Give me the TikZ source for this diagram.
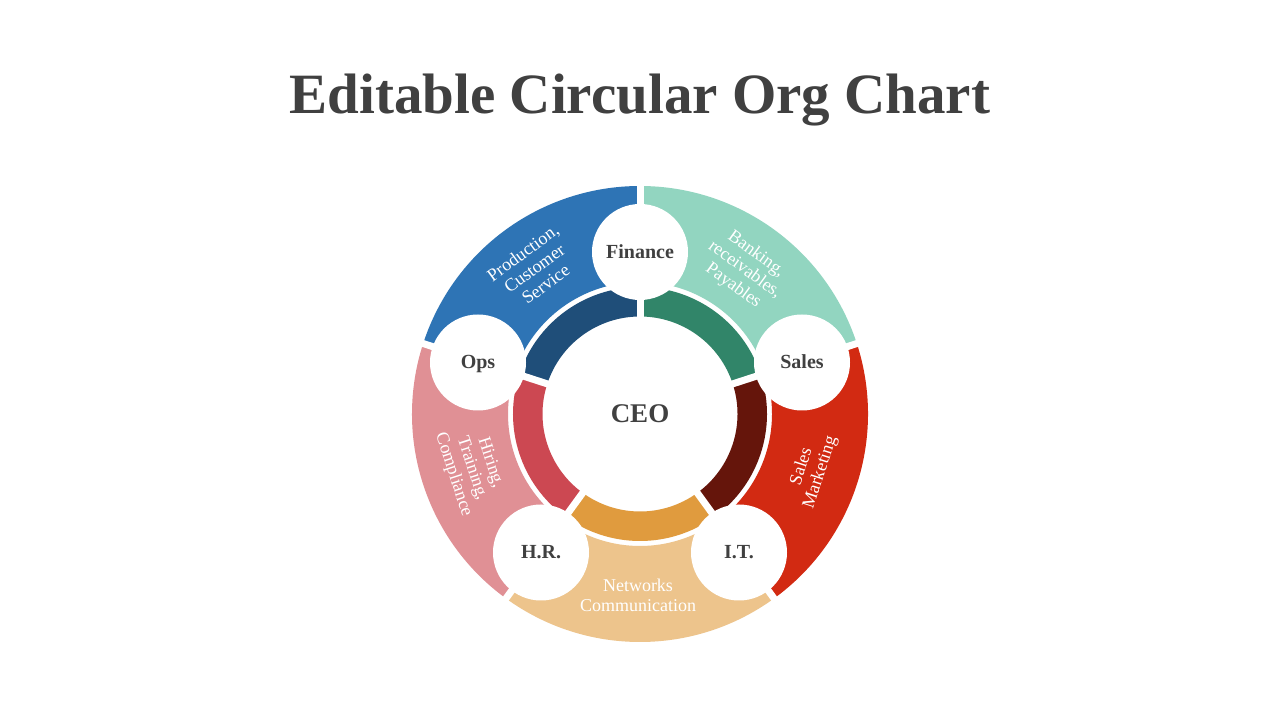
\documentclass[tikz,border=0pt]{standalone}
\usepackage{fontspec}
\setmainfont{Liberation Serif}
\definecolor{cBlue}{HTML}{2E74B5}
\definecolor{cTeal}{HTML}{92D5C0}
\definecolor{cRedO}{HTML}{D22A12}
\definecolor{cPeach}{HTML}{EDC48C}
\definecolor{cPink}{HTML}{E09095}
\definecolor{cDBlue}{HTML}{1F4E79}
\definecolor{cGreen}{HTML}{318569}
\definecolor{cDRed}{HTML}{65150B}
\definecolor{cOrange}{HTML}{E09B3E}
\definecolor{cRedI}{HTML}{CC4852}
\definecolor{cText}{HTML}{404040}
\tikzset{
  smallc/.style={circle, fill=white, minimum size=96pt, inner sep=0pt, text height=13pt, text depth=0pt, text=cText, font=\bfseries\fontsize{20}{22}\selectfont},
  ceoc/.style={circle, fill=white, minimum size=190pt, inner sep=0pt, text=cText, font=\bfseries\fontsize{27}{30}\selectfont},
  lab/.style={align=center, text=white, inner sep=0pt, font=\fontsize{18}{19.5}\selectfont},
  gapline/.style={white, line width=7pt}
}
\begin{document}
\begin{tikzpicture}[x=1pt,y=1pt]
\useasboundingbox (0,0) rectangle (1280,720);
\fill[white] (0,0) rectangle (1280,720);
\coordinate (C) at (640,306);
\node[anchor=base, text=cText, font=\bfseries\fontsize{57}{62}\selectfont] (title) at (640,606.7) {Editable Circular Org Chart};
\begin{scope}[shift={(640,306)}]
\foreach \a/\co/\ci in {90/cBlue/cDBlue, 162/cPink/cRedI, 234/cPeach/cOrange, 306/cRedO/cDRed, 18/cTeal/cGreen}{
  \pgfmathsetmacro{\b}{\a+72}
  \fill[\co] (\a:228) arc[start angle=\a, end angle=\b, radius=228] -- (\b:132) arc[start angle=\b, end angle=\a, radius=132] -- cycle;
  \fill[\ci] (\a:127) arc[start angle=\a, end angle=\b, radius=127] -- (\b:97.5) arc[start angle=\b, end angle=\a, radius=97.5] -- cycle;
}
\foreach \a in {18,90,162,234,306}{
  \draw[gapline] (\a:90) -- (\a:236);
}
\end{scope}
\node[ceoc] (ceo) at (C) {CEO};
\node[smallc] (fin) at (640,468) {Finance};
\node[smallc] (sales) at (802,357.5) {Sales};
\node[smallc] (ops) at (478,357.5) {Ops};
\node[smallc] (hr) at (541,167.5) {H.R.};
\node[smallc] (it) at (739,167.5) {I.T.};
\node[lab, rotate=36] (lprod) at ([shift={(126:180)}]C) {Production,\\Customer\\Service};
\node[lab, rotate=-36] (lbank) at ([shift={(54:178)}]C) {Banking,\\receivables,\\Payables};
\node[lab, rotate=-72] (lhire) at ([shift={(198:177)}]C) {Hiring,\\Training,\\Compliance};
\node[lab, rotate=72] (lsales) at ([shift={(342:180)}]C) {Sales\\Marketing};
\node[lab] (lnet) at (638,124.5) {Networks\\Communication};
\end{tikzpicture}
\end{document}
